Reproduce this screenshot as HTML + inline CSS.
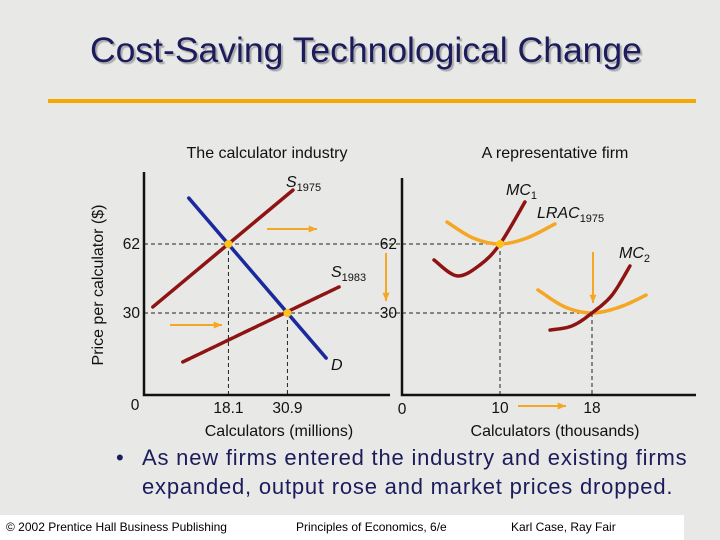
<!DOCTYPE html>
<html><head><meta charset="utf-8"><style>
body{margin:0;width:720px;height:540px;overflow:hidden;background:#e8e8e6;font-family:"Liberation Sans",sans-serif;}
#wrap{position:relative;width:720px;height:540px;}
.t{position:absolute;white-space:nowrap;}
</style></head><body>
<div id="wrap">
<div class="t" style="left:90px;top:30px;font-size:35.5px;color:#1c1c5c;text-shadow:2px 2px 1px #aaa;">Cost-Saving Technological Change</div>
<div style="position:absolute;left:48px;top:99px;width:648px;height:4px;background:#f5a800;"></div>
<svg id="chart" width="720" height="540" style="position:absolute;left:0;top:0" font-family="Liberation Sans, sans-serif"></svg>
<div class="t" style="left:116px;top:443px;font-size:22px;color:#1c1c5c;line-height:29px;">•</div>
<div class="t" style="left:142px;top:443px;font-size:22px;letter-spacing:0.8px;color:#1c1c5c;line-height:29px;">As new firms entered the industry and existing firms<br>expanded, output rose and market prices dropped.</div>
<div style="position:absolute;left:0;top:515px;width:684px;height:25px;background:#fff;font-size:12px;color:#000;">
<span class="t" style="left:6px;top:5px;">© 2002 Prentice Hall Business Publishing</span>
<span class="t" style="left:296px;top:5px;">Principles of Economics, 6/e</span>
<span class="t" style="left:511px;top:5px;">Karl Case, Ray Fair</span>
</div>
</div>
<script>
const demandD=[[9.5,83.3],[39.3,9.1]];
const supply1975=[[1.7,32.8],[32.1,87]];
const supply1983=[[8.2,7.3],[42.1,42.1]];
const industryEq=[[18.1,62],[30.9,30]];
const mc1=[[4.26,54.6],[6.26,47.2],[8.26,52.3],[10,62],[12.17,81.5]];
const lrac1975=[[5.39,72.2],[7.65,64.8],[10,62],[12.35,64.8],[14.78,71.3]];
const mc2=[[14.35,22.1],[16.26,24],[18,30],[19.74,38.3],[21.3,51.8]];
const lrac2=[[13.3,40.7],[15.65,32.8],[18,30],[20.43,32.8],[22.7,38.3]];
const firmEq=[[10,62],[18,30]];
const priceTicks=[62,30];

const svg=document.getElementById('chart');
const NS='http://www.w3.org/2000/svg';
function yS(p){return 313-(p-30)*69/32;}
function xL(q){return 145+q*59/12.8;}
function xR(q){return 500+(q-10)*11.5;}
function mk(tag,attrs,name,txt){const e=document.createElementNS(NS,tag);for(const k in attrs)e.setAttribute(k,attrs[k]);


if(txt!==undefined)e.textContent=txt;svg.appendChild(e);return e;}
function smooth(pts){let d='M'+pts[0][0]+','+pts[0][1];for(let i=0;i<pts.length-1;i++){const p0=pts[i-1]||pts[i],p1=pts[i],p2=pts[i+1],p3=pts[i+2]||p2;
d+=` C${p1[0]+(p2[0]-p0[0])/6},${p1[1]+(p2[1]-p0[1])/6} ${p2[0]-(p3[0]-p1[0])/6},${p2[1]-(p3[1]-p1[1])/6} ${p2[0]},${p2[1]}`;}return d;}
const dash={stroke:'#222','stroke-width':1,'stroke-dasharray':'4,3',fill:'none'};
const FS=15.5;
mk('text',{x:267,y:158,'font-size':16,'text-anchor':'middle',fill:'#111'},'left-panel-title','The calculator industry');
mk('text',{x:555,y:158,'font-size':16,'text-anchor':'middle',fill:'#111'},'right-panel-title','A representative firm');
mk('text',{x:0,y:0,'font-size':16,'text-anchor':'middle',fill:'#111',transform:'translate(103,285) rotate(-90)'},'y-axis-title','Price per calculator ($)');
mk('text',{x:279,y:436,'font-size':16,'text-anchor':'middle',fill:'#111'},'left-x-axis-title','Calculators (millions)');
mk('text',{x:555,y:436,'font-size':16,'text-anchor':'middle',fill:'#111'},'right-x-axis-title','Calculators (thousands)');
priceTicks.forEach(p=>{mk('line',Object.assign({x1:144,x2:402,y1:yS(p),y2:yS(p)},dash),'price-guide-'+p);
mk('text',{x:140,y:yS(p)+5,'font-size':FS,'text-anchor':'end',fill:'#111'},'left-price-tick-'+p,p);
mk('text',{x:397,y:yS(p)+5,'font-size':FS,'text-anchor':'end',fill:'#111'},'right-price-tick-'+p,p);});
mk('line',Object.assign({x1:402,x2:xR(firmEq[0][0]),y1:yS(firmEq[0][1]),y2:yS(firmEq[0][1])},dash),'firm-guide-h1');
mk('line',Object.assign({x1:402,x2:xR(firmEq[1][0]),y1:yS(firmEq[1][1]),y2:yS(firmEq[1][1])},dash),'firm-guide-h2');
industryEq.forEach((e,i)=>{mk('line',Object.assign({x1:xL(e[0]),x2:xL(e[0]),y1:yS(e[1]),y2:395},dash),'industry-guide-v'+i);
mk('text',{x:xL(e[0]),y:413,'font-size':FS,'text-anchor':'middle',fill:'#111'},'left-qty-tick-'+i,e[0]);});
firmEq.forEach((e,i)=>{mk('line',Object.assign({x1:xR(e[0]),x2:xR(e[0]),y1:yS(e[1]),y2:395},dash),'firm-guide-v'+i);
mk('text',{x:xR(e[0]),y:413,'font-size':FS,'text-anchor':'middle',fill:'#111'},'right-qty-tick-'+i,e[0]);});
mk('text',{x:135,y:410,'font-size':FS,'text-anchor':'middle',fill:'#111'},'left-origin','0');
mk('text',{x:402,y:414,'font-size':FS,'text-anchor':'middle',fill:'#111'},'right-origin','0');
mk('path',{d:'M144,172 V395 H390',stroke:'#111','stroke-width':2.5,fill:'none'},'left-axes');
mk('path',{d:'M402,178 V395 H696',stroke:'#111','stroke-width':2.5,fill:'none'},'right-axes');
function line(pts,f,color,name,w,da){const p=pts.map(q=>[f(q[0]),yS(q[1])]);const a={d:smooth(p),stroke:color,'stroke-width':w||3.5,fill:'none','stroke-linecap':'round'};if(da)a['stroke-dasharray']=da;return mk('path',a,name);}
line(demandD,xL,'#1a2a9c','demand-line');
line(supply1975,xL,'#8e1414','supply-1975-line');
line(supply1983,xL,'#8e1414','supply-1983-line',3.5,'8,1.5');
line(lrac1975,xR,'#f5a623','lrac-1975-curve');
line(mc1,xR,'#8e1414','mc1-curve');
line(lrac2,xR,'#f5a623','lrac2-curve',3.5,'8,1.5');
line(mc2,xR,'#8e1414','mc2-curve',3.5,'8,1.5');
industryEq.forEach((e,i)=>mk('circle',{cx:xL(e[0]),cy:yS(e[1]),r:4,fill:'#ffc21a'},'industry-equilibrium-'+i));
mk('circle',{cx:xR(firmEq[0][0]),cy:yS(firmEq[0][1]),r:4,fill:'#ffc21a'},'firm-equilibrium-0');
function lab(x,y,main,sub,name){const t=mk('text',{x:x,y:y,'font-size':16,'font-style':'italic',fill:'#111'},name);t.textContent=main;const s=document.createElementNS(NS,'tspan');s.setAttribute('font-size',11);s.setAttribute('font-style','normal');s.setAttribute('dy',4);s.textContent=sub;t.appendChild(s);}
lab(286,187,'S','1975','s1975-label');lab(331,277,'S','1983','s1983-label');lab(331,370,'D','','demand-label');
lab(506,195,'MC','1','mc1-label');lab(537,218,'LRAC','1975','lrac-label');lab(619,258,'MC','2','mc2-label');
function arrow(x1,y1,x2,y2,name){mk('line',{x1:x1,y1:y1,x2:x2,y2:y2,stroke:'#f5a623','stroke-width':2},name);
const a=Math.atan2(y2-y1,x2-x1),L=9;mk('polygon',{points:`${x2},${y2} ${x2-L*Math.cos(a-0.4)},${y2-L*Math.sin(a-0.4)} ${x2-L*Math.cos(a+0.4)},${y2-L*Math.sin(a+0.4)}`,fill:'#f5a623'},name+'-head');}
arrow(267,229,317,229,'shift-arrow-top');arrow(170,325,222,325,'shift-arrow-bottom');
arrow(386,253,386,301,'price-drop-arrow');arrow(593,252,593,303,'firm-price-drop-arrow');arrow(518,406,566,406,'qty-increase-arrow');
</script>
</body></html>
